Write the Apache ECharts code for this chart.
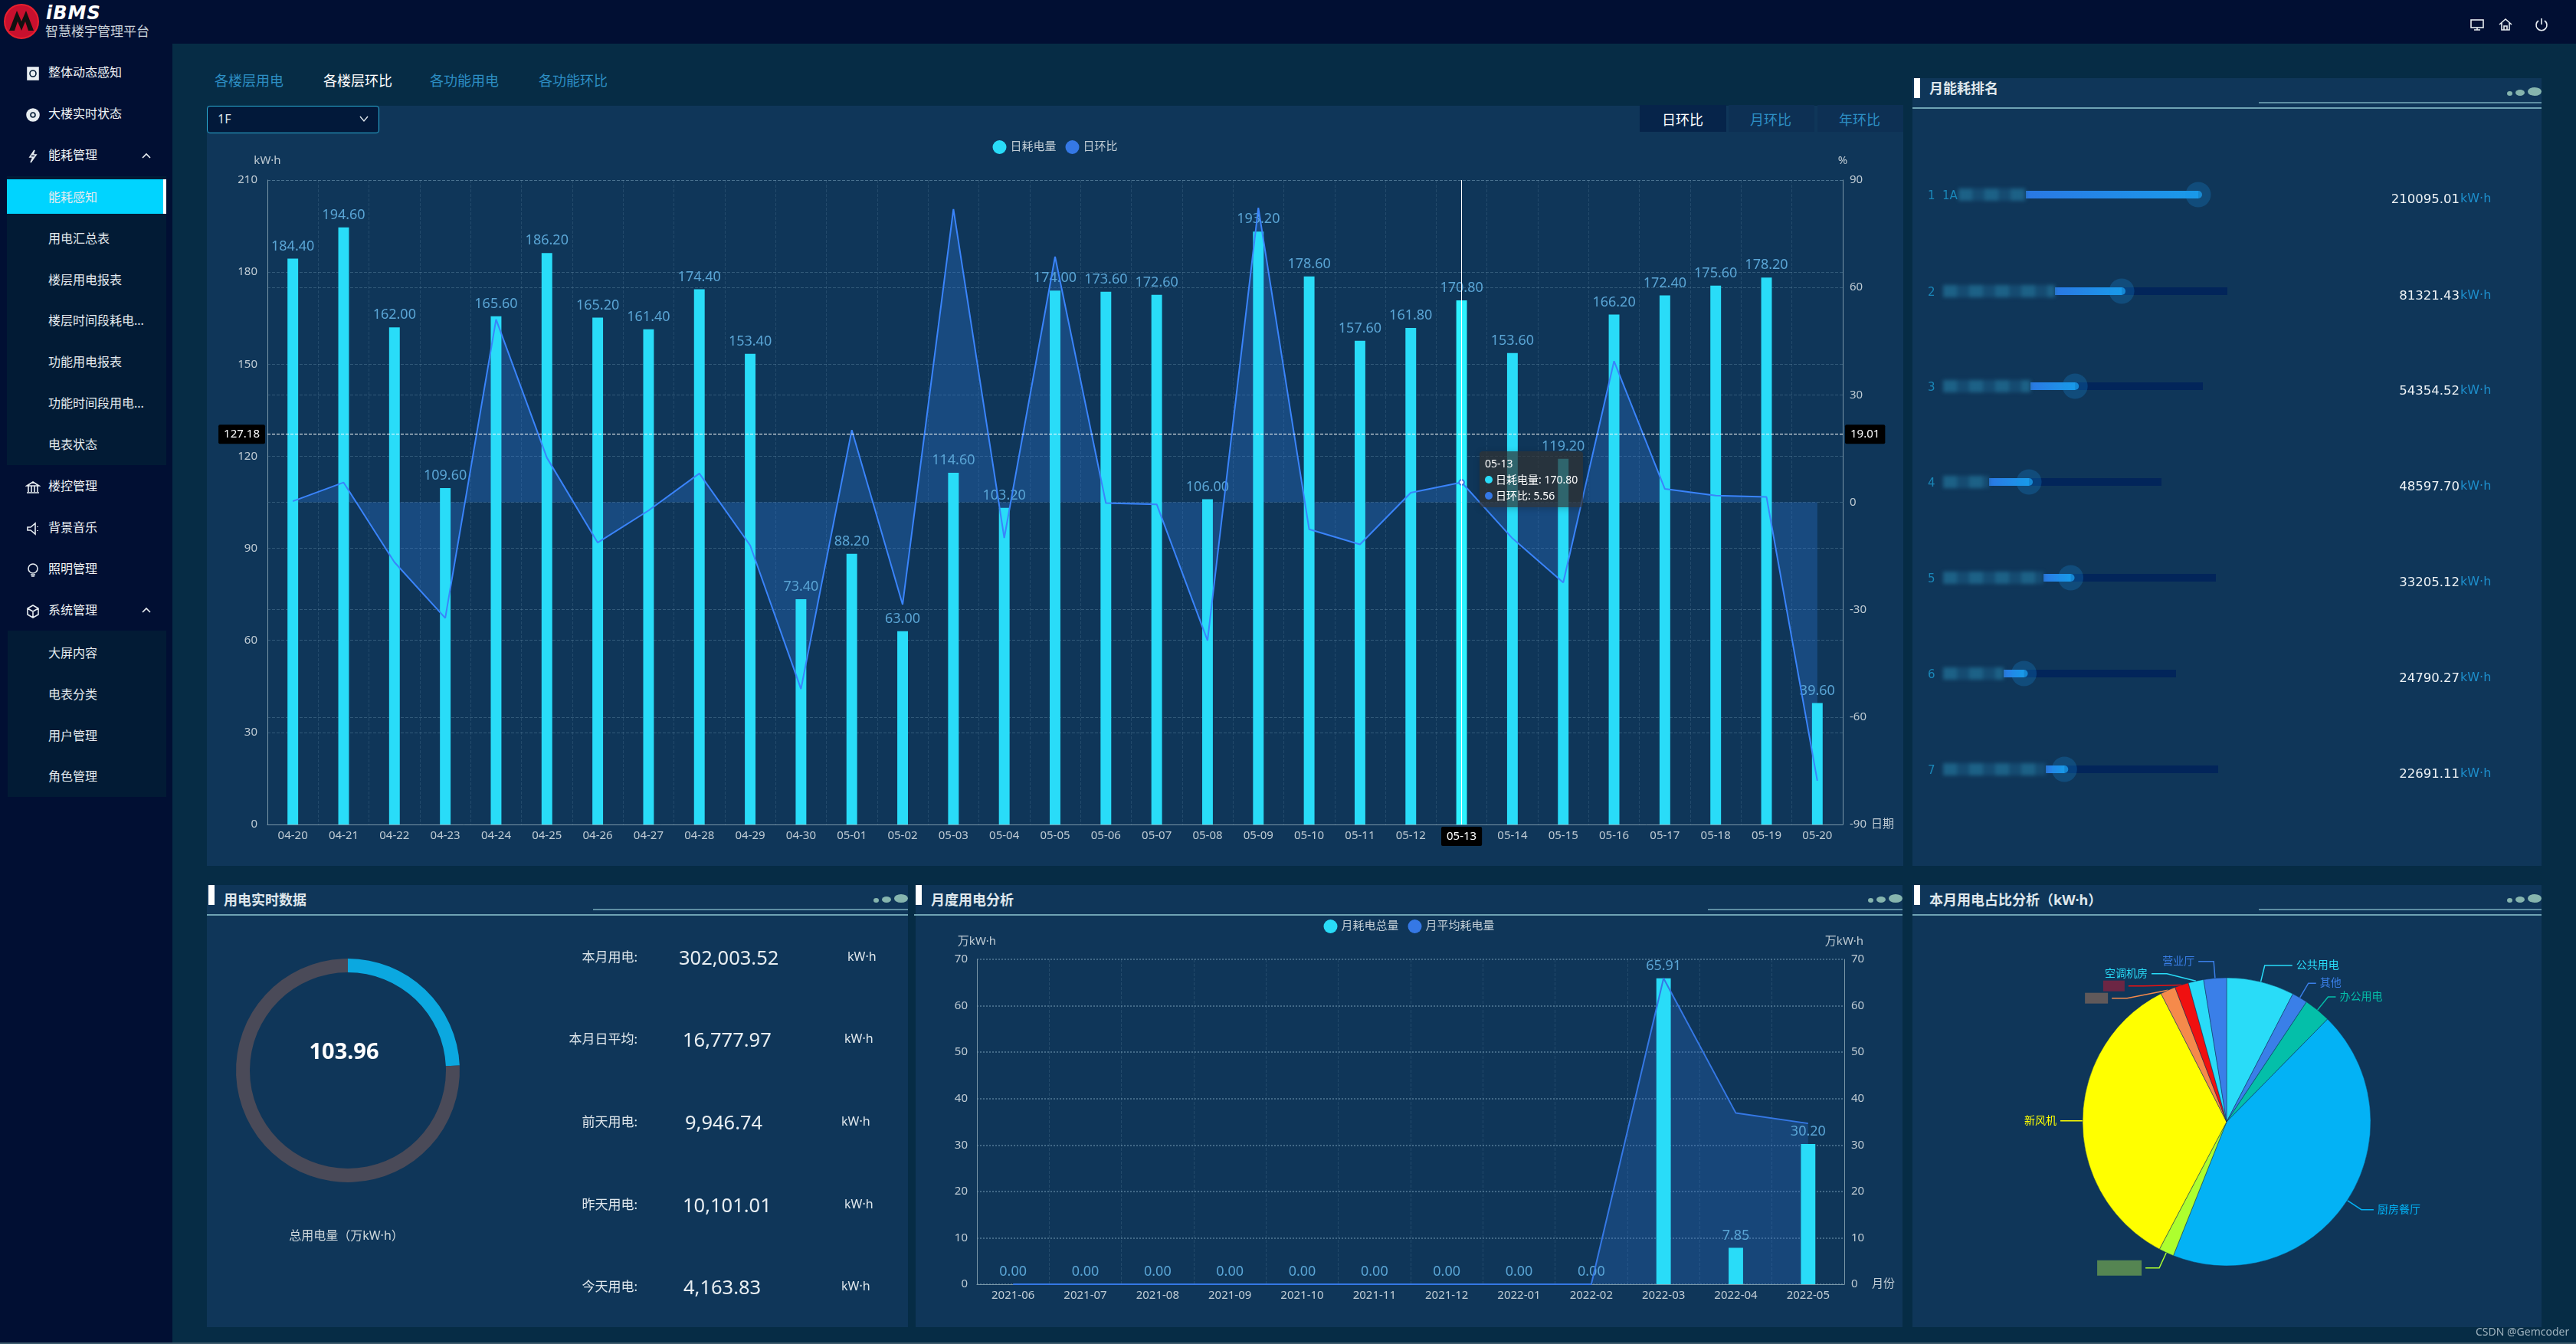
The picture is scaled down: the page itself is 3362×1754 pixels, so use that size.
<!DOCTYPE html>
<html>
<head>
<meta charset="utf-8">
<title>IBMS</title>
<script src="https://cdn.jsdelivr.net/npm/echarts@6/dist/echarts.min.js"></script>
<style>
html, body { margin: 0; padding: 0; background: #062c45; }
body { width: 3362px; height: 1754px; position: relative; overflow: hidden; font-family: "Noto Sans", "Noto Sans CJK SC", sans-serif; color: #dfe7ec; }
.abs { position: absolute; white-space: nowrap; }
.panel { position: absolute; background: #0f3659; }
.chart { position: absolute; }
.mid { transform: translateY(calc(-50% - 2px)); line-height: 1; }
</style>
</head>
<body>
<div id="root"></div>
<script>
// main chart
let days = ['04-20','04-21','04-22','04-23','04-24','04-25','04-26','04-27','04-28','04-29','04-30','05-01','05-02','05-03','05-04','05-05','05-06','05-07','05-08','05-09','05-10','05-11','05-12','05-13','05-14','05-15','05-16','05-17','05-18','05-19','05-20']
let dayKwh = [184.40,194.60,162.00,109.60,165.60,186.20,165.20,161.40,174.40,153.40,73.40,88.20,63.00,114.60,103.20,174.00,173.60,172.60,106.00,193.20,178.60,157.60,161.80,170.80,153.60,119.20,166.20,172.40,175.60,178.20,39.60]
let dayRatio = [0.30,5.53,-16.75,-32.35,51.09,12.44,-11.28,-2.30,8.05,-12.04,-52.15,20.16,-28.57,81.90,-9.95,68.60,-0.23,-0.58,-38.59,82.26,-7.56,-11.76,2.66,5.56,-10.07,-22.40,39.43,3.73,1.86,1.48,-77.78]
let pointerDay = '05-13'
let pointerKwh = 127.18

// monthly chart
let months = ['2021-06','2021-07','2021-08','2021-09','2021-10','2021-11','2021-12','2022-01','2022-02','2022-03','2022-04','2022-05']
let monthTotal = [0,0,0,0,0,0,0,0,0,65.91,7.85,30.20]
let monthAvg = [0,0,0,0,0,0,0,0,0,65.91,36.88,34.65]

// ranking, names are pixelated in the picture
let rankNames = ['1  1A','2','3','4','5','6','7']
let rankValues = [210095.01,81321.43,54354.52,48597.70,33205.12,24790.27,22691.11]

// ring and figures
let ringValue = 103.96
let ringRest = 324
let statNames = ['本月用电:','本月日平均:','前天用电:','昨天用电:','今天用电:']
let statValues = ['302,003.52','16,777.97','9,946.74','10,101.01','4,163.83']

// pie, empty names are the pixelated ones
let pieNames = ['公共用电','其他','办公用电','厨房餐厅','','新风机','','','空调机房','营业厅']
let pieValues = [22985,5285,9060,131875,5117,104946,5117,4698,5201,7718]
let pieColors = ['#29dcf8','#3a7fe8','#04bfa9','#03b2f5','#adff2f','#ffff00','#f58a4b','#f01010','#29dcf8','#3a7fe8']

// menu
let menuTop = ['整体动态感知','大楼实时状态','能耗管理']
let menuSub1 = ['能耗感知','用电汇总表','楼层用电报表','楼层时间段耗电...','功能用电报表','功能时间段用电...','电表状态']
let menuMid = ['楼控管理','背景音乐','照明管理','系统管理']
let menuSub2 = ['大屏内容','电表分类','用户管理','角色管理']

let root = document.getElementById('root')
let html = ''
function box(x, y, w, h, style, inner) {
    html += '<div class="abs" style="left:' + x + 'px;top:' + y + 'px;width:' + w + 'px;height:' + h + 'px;' + style + '">' + (inner || '') + '</div>'
}
function text(x, y, str, size, color, extra) {
    html += '<div class="abs mid" style="left:' + x + 'px;top:' + y + 'px;font-size:' + size + 'px;color:' + color + ';' + (extra || '') + '">' + str + '</div>'
}
function icon(x, y, path) {
    html += '<svg class="abs" style="left:' + x + 'px;top:' + y + 'px" width="20" height="20" viewBox="0 0 20 20" fill="none" stroke="#e8eef2" stroke-width="1.6">' + path + '</svg>'
}

// header and sidebar
box(0, 0, 3362, 57, 'background:#010f33')
box(0, 57, 225, 1697, 'background:#010f33')
box(0, 1752, 3362, 2, 'background:#3d5b6d')
html += '<svg class="abs" style="left:4px;top:4px" width="48" height="48" viewBox="0 0 48 48"><circle cx="24" cy="24" r="22" fill="#c8102e" stroke="#e8202e" stroke-width="2"/><path d="M8 36 L18 10 L24 24 L30 10 L40 36 L33 36 L29 24 L24 36 L19 24 L15 36 Z" fill="#111"/></svg>'
text(60, 19, 'iBMS', 24, '#fff', 'font-weight:900;font-style:italic;font-family:\'DejaVu Sans\';letter-spacing:1px')
text(59, 42, '智慧楼宇管理平台', 17, '#ccd5dc')
box(9, 230, 208, 377, 'background:#021b35')
box(10, 823, 207, 217, 'background:#021b35')
box(9, 234, 208, 45, 'background:#00d4ff')
box(213, 234, 4, 45, 'background:#fff')
let paths = [
    '<rect x="3" y="2" width="14" height="16" fill="#e8eef2"/><circle cx="10" cy="10" r="4" stroke="#021b35"/>',
    '<circle cx="10" cy="10" r="8" fill="#e8eef2"/><circle cx="10" cy="10" r="3" stroke="#021b35"/>',
    '<path d="M12 2 L6 11 L10 11 L7 18 L14 8 L10 8 Z"/>',
    '<path d="M2 8 L10 3 L18 8 Z M4 8 V16 M8 8 V16 M12 8 V16 M16 8 V16 M2 17 H18"/>',
    '<path d="M3 8 H7 L13 3 V17 L7 12 H3 Z M16 7 V8 M16 12 V13"/>',
    '<circle cx="10" cy="8" r="6"/><path d="M7 16 H13 M8 18 H12"/>',
    '<path d="M10 2 L17 6 V14 L10 18 L3 14 V6 Z M3 6 L10 10 L17 6 M10 10 V18"/>'
]
menuTop.forEach((name, i) => {
    let y = 96 + i * 54
    icon(33, y - 10, paths[i])
    text(63, y, name, 16, '#f0f4f6')
})
menuSub1.forEach((name, i) => text(63, 259 + i * 53.8, name, 16, '#e4ebef'))
menuMid.forEach((name, i) => {
    let y = 636 + i * 54
    icon(33, y - 10, paths[i + 3])
    text(63, y, name, 16, '#f0f4f6')
})
menuSub2.forEach((name, i) => text(63, 854 + i * 53.8, name, 16, '#e4ebef'))
let chevron = '<path d="M5 12 L10 7 L15 12"/>'
icon(181, 194, chevron)
icon(181, 787, chevron)

// top right buttons
icon(3223, 22, '<rect x="2" y="4" width="16" height="10"/><path d="M10 14 V17 M6 17 H14"/>')
icon(3260, 22, '<path d="M2 10 L10 3 L18 10 M5 8 V17 H15 V8 M8 17 V12 H12 V17"/>')
icon(3307, 22, '<path d="M10 2 V10 M6 5 A7 7 0 1 0 14 5"/>')

// tabs
let tabs = [['各楼层用电', 280, '#2d8fc4'], ['各楼层环比', 422, '#fff'], ['各功能用电', 561, '#2d8fc4'], ['各功能环比', 703, '#2d8fc4']]
tabs.forEach(t => text(t[1], 107, t[0], 18, t[2]))

// panels
function panelHead(x, w, y, title, lineFrom, titleGap) {
    box(x + 2, y, 8, 26, 'background:#fff')
    text(x + 22, y + titleGap, title, 18, '#dfe7ec', 'font-weight:700')
    box(x, y + 38, w, 2, 'background:#6fa3b4')
    box(lineFrom, y + 31, x + w - lineFrom, 2, 'background:#5d8ea3')
    let r = x + w
    box(r - 45, y + 17, 7, 6, 'background:#86b5ae;border-radius:50%')
    box(r - 34, y + 15, 12, 8, 'background:#86b5ae;border-radius:50%')
    box(r - 18, y + 12, 18, 11, 'background:#86b5ae;border-radius:50%')
}
html += '<div class="panel" style="left:270px;top:138px;width:2214px;height:992px"></div>'
html += '<div class="panel" style="left:2496px;top:102px;width:821px;height:1028px"></div>'
html += '<div class="panel" style="left:270px;top:1155px;width:915px;height:577px"></div>'
html += '<div class="panel" style="left:1195px;top:1155px;width:1288px;height:577px"></div>'
html += '<div class="panel" style="left:2496px;top:1155px;width:821px;height:577px"></div>'
panelHead(2496, 821, 102, '月能耗排名', 2948, 15)
panelHead(270, 915, 1155, '用电实时数据', 774, 21)
panelHead(1193, 1290, 1155, '月度用电分析', 2229, 21)
panelHead(2496, 821, 1155, '本月用电占比分析（kW·h）', 2948, 21)

// floor select and period tabs
box(270, 138, 223, 34, 'background:#02193a;border:1px solid #2bb0d6;border-radius:4px')
text(284, 157, '1F', 16, '#dfe7ec')
html += '<svg class="abs" style="left:468px;top:148px" width="14" height="14" viewBox="0 0 14 14" fill="none" stroke="#dfe7ec" stroke-width="1.4"><path d="M2 4 L7 10 L12 4"/></svg>'
box(2140, 137, 113, 35, 'background:#06244a')
box(2256, 137, 112, 35, 'background:#0d3054')
box(2372, 137, 112, 35, 'background:#0d3054')
text(2169, 158, '日环比', 18, '#fff')
text(2284, 158, '月环比', 18, '#2d8fc4')
text(2400, 158, '年环比', 18, '#2d8fc4')

// chart holders
html += '<div id="mainChart" class="chart" style="left:270px;top:138px;width:2214px;height:992px"></div>'
html += '<div id="rankChart" class="chart" style="left:2496px;top:140px;width:821px;height:990px"></div>'
html += '<div id="ringChart" class="chart" style="left:270px;top:1195px;width:500px;height:537px"></div>'
html += '<div id="monthChart" class="chart" style="left:1195px;top:1195px;width:1288px;height:537px"></div>'
html += '<div id="pieChart" class="chart" style="left:2496px;top:1195px;width:821px;height:537px"></div>'

// figures beside the ring
let statY = [1250, 1357, 1465, 1573, 1680]
let statX = [886, 891, 894, 891, 892]
let unitX = [1106, 1102, 1098, 1102, 1098]
statNames.forEach((name, i) => {
    text(700, statY[i], name, 17, '#dfe7ec', 'width:132px;text-align:right')
    text(statX[i], statY[i] + 2, statValues[i], 25.5, '#e8eef2')
    text(unitX[i], statY[i], 'kW·h', 16, '#dfe7ec')
})

// ranking labels
let rankY = [254, 380, 504, 629, 754, 879, 1004]
let rankStart = [2644, 2682, 2650, 2596, 2667, 2615, 2670]
rankNames.forEach((name, i) => {
    let from = i == 0 ? 2556 : 2536
    box(from, rankY[i] - 8, rankStart[i] - from, 16, 'filter:blur(2.5px);background:repeating-linear-gradient(90deg,rgba(34,112,150,.75) 0 18px,rgba(26,90,130,.6) 18px 34px)')
    text(2516, rankY[i] + 3, name.replace(/ /g, '&nbsp;'), 15, '#1a87b8', "font-family:'DejaVu Sans'")
    text(3110, rankY[i] + 8, rankValues[i].toFixed(2), 16.5, '#eef3f6', "font-family:'DejaVu Sans';width:100px;text-align:right")
    text(3211, rankY[i] + 7, 'kW·h', 16, '#1d8ecb', "font-family:'DejaVu Sans'")
})
text(3231, 1740, 'CSDN @Gemcoder', 14, '#9fb3bf')
root.innerHTML = html

let baseFont = { fontFamily: '"Noto Sans", "Noto Sans CJK SC", sans-serif' }
let axisColor = '#7a97a8'
let labelColor = '#c0ccd4'
let splitColor = 'rgba(140,180,205,.28)'
let barColor = '#29dcf8'
let lineColor = '#3578e5'
let areaColor = 'rgba(45,110,200,.42)'

function valueAxis(max, interval, min, name, pos, gap, margin) {
    return {
        type: 'value', min: min, max: max, interval: interval, position: pos,
        name: name, nameGap: gap, nameTextStyle: { color: labelColor, fontSize: 15 },
        axisLine: { show: true, lineStyle: { color: axisColor } },
        axisTick: { show: false },
        axisLabel: { color: labelColor, fontSize: 15, margin: margin, padding: [0, 0, 5, 0] },
        splitLine: { show: true, lineStyle: { color: splitColor, type: 'dashed' } }
    }
}
function catAxis(data, name, gap) {
    return {
        type: 'category', data: data, name: name, nameGap: gap,
        nameTextStyle: { color: labelColor, fontSize: 15 },
        axisLine: { lineStyle: { color: axisColor } },
        axisTick: { show: false },
        axisLabel: { color: labelColor, fontSize: 15, margin: 7, interval: 0 },
        splitLine: { show: true, lineStyle: { color: 'rgba(140,180,205,.16)', type: 'dashed' } }
    }
}
function comboSeries(barName, lineName, bars, line, width) {
    return [
        { name: lineName, type: 'line', yAxisIndex: 1, data: line, z: 1, symbol: 'none', color: lineColor,
          lineStyle: { width: 0 }, areaStyle: { color: areaColor }, silent: true },
        { name: barName, type: 'bar', data: bars, barWidth: width, color: barColor, z: 2,
          label: { show: true, position: 'top', color: '#5aa5d5', fontSize: 18, distance: 7, formatter: p => p.value.toFixed(2) } },
        { name: lineName, type: 'line', yAxisIndex: 1, data: line, z: 3, showSymbol: false, color: lineColor,
          lineStyle: { width: 2, color: lineColor } }
    ]
}

let mainChart = echarts.init(document.getElementById('mainChart'))
let mainY = valueAxis(210, 30, 0, 'kW·h', 'left', 18, 13)
let mainY2 = valueAxis(90, 30, -90, '%', 'right', 18, 9)
let pointerLabel = { show: true, backgroundColor: '#000', color: '#fff', fontSize: 15, padding: [5, 7], borderRadius: 2, shadowBlur: 0 }
mainY.axisPointer = mainY2.axisPointer = {
    show: true, triggerTooltip: false, snap: false, type: 'line',
    lineStyle: { color: '#fff', type: 'dashed', width: 1 },
    label: Object.assign({ formatter: p => p.value.toFixed(2) }, pointerLabel)
}
let mainX = catAxis(days, '日期', 34)
mainX.axisPointer = { show: true, type: 'line', lineStyle: { color: '#fff', type: 'solid', width: 1 }, label: pointerLabel }
mainChart.setOption({
    animation: false,
    textStyle: baseFont,
    legend: { data: ['日耗电量', '日环比'], top: 40, icon: 'circle', itemWidth: 18, itemHeight: 18, itemGap: 12, textStyle: { color: labelColor, fontSize: 15 } },
    grid: { left: 79, right: 79, top: 97, bottom: 54 },
    tooltip: {
        trigger: 'axis', alwaysShowContent: true, transitionDuration: 0, position: [1661, 451],
        backgroundColor: 'rgba(50,50,50,.7)', borderWidth: 0, padding: [5, 7],
        textStyle: { color: '#fff', fontSize: 14 },
        axisPointer: { type: 'line' },
        formatter: ps => {
            let rows = ps.filter(p => p.seriesIndex > 0).map(p => p.marker + p.seriesName + ': ' + (p.seriesIndex == 1 ? p.value.toFixed(2) : p.value))
            return ps[0].axisValue + '<br/>' + rows.join('<br/>')
        }
    },
    xAxis: mainX,
    yAxis: [mainY, mainY2],
    series: comboSeries('日耗电量', '日环比', dayKwh, dayRatio, '21%')
})
mainChart.dispatchAction({
    type: 'showTip',
    x: mainChart.convertToPixel({ xAxisIndex: 0 }, pointerDay),
    y: mainChart.convertToPixel({ yAxisIndex: 0 }, pointerKwh)
})

let monthChart = echarts.init(document.getElementById('monthChart'))
let monthLeft = valueAxis(70, 10, 0, '万kW·h', 'left', 16, 12)
let monthRight = valueAxis(70, 10, 0, '万kW·h', 'right', 16, 9)
monthRight.splitLine.show = false
monthLeft.splitLine.lineStyle = { color: 'rgba(150,190,210,.38)', type: 'dotted', width: 2 }
monthChart.setOption({
    animation: false,
    textStyle: baseFont,
    legend: { data: ['月耗电总量', '月平均耗电量'], top: 0, icon: 'circle', itemWidth: 18, itemHeight: 18, itemGap: 12, textStyle: { color: labelColor, fontSize: 15 } },
    grid: { left: 80, right: 76, top: 57, bottom: 56 },
    xAxis: catAxis(months, '月份', 36),
    yAxis: [monthLeft, monthRight],
    series: comboSeries('月耗电总量', '月平均耗电量', monthTotal, monthAvg, '20%')
})

// one small grid per row, each bar starts after its own name
let rankMax = rankValues[0]
let rankGrid = [], rankX = [], rankYAxis = [], rankSeries = []
rankValues.forEach((v, i) => {
    rankGrid.push({ left: rankStart[i] - 2496, top: rankY[i] - 140 - 5, width: 225, height: 10 })
    rankX.push({ gridIndex: i, type: 'value', min: 0, max: rankMax, show: false })
    rankYAxis.push({ gridIndex: i, type: 'category', data: [rankNames[i]], show: false })
    rankSeries.push({
        type: 'bar', xAxisIndex: i, yAxisIndex: i, data: [v], barWidth: 10,
        showBackground: true, backgroundStyle: { color: '#02255a' },
        itemStyle: { color: { type: 'linear', x: 0, y: 0, x2: 1, y2: 0, colorStops: [{ offset: 0, color: '#2a78e4' }, { offset: 1, color: '#1a9bea' }] } }
    })
    rankSeries.push({
        type: 'scatter', xAxisIndex: i, yAxisIndex: i, data: [[v, 0]], clip: false, symbolSize: 10, z: 3,
        itemStyle: { color: '#1a9bea' }
    })
    rankSeries.push({
        type: 'scatter', xAxisIndex: i, yAxisIndex: i, data: [[v, 0]], clip: false, symbolSize: 33, z: 4,
        itemStyle: { color: 'rgba(26,150,230,.3)' }
    })
})
let rankChart = echarts.init(document.getElementById('rankChart'))
rankChart.setOption({ animation: false, textStyle: baseFont, grid: rankGrid, xAxis: rankX, yAxis: rankYAxis, series: rankSeries })

let ringChart = echarts.init(document.getElementById('ringChart'))
ringChart.setOption({
    animation: false,
    textStyle: baseFont,
    title: [
        { text: String(ringValue), left: 174, top: 159, textAlign: 'center', textStyle: { color: '#fff', fontSize: 29, fontWeight: 700, fontFamily: baseFont.fontFamily } },
        { text: '总用电量（万kW·h）', left: 177, top: 405, textAlign: 'center', textStyle: { color: '#cfd8dc', fontSize: 16, fontWeight: 400, fontFamily: baseFont.fontFamily } }
    ],
    series: [{
        type: 'pie', center: [184, 202], radius: [128, 146], startAngle: 90, silent: true,
        label: { show: false }, labelLine: { show: false },
        data: [{ value: ringValue, itemStyle: { color: '#0ba8e0' } }, { value: ringRest, itemStyle: { color: '#4a4a58' } }]
    }]
})

let pieChart = echarts.init(document.getElementById('pieChart'))
let blockWidth = { 4: 58, 6: 30, 7: 28 }
let blockColor = { 4: 'rgba(110,160,80,.75)', 6: 'rgba(110,95,90,.85)', 7: 'rgba(125,35,65,.85)' }
let lineTail = { 0: 36, 1: 10, 2: 10, 3: 16, 5: 12, 4: 18 }
pieChart.setOption({
    animation: false,
    textStyle: baseFont,
    color: pieColors,
    series: [{
        type: 'pie', center: [410, 269], radius: 188, startAngle: 90, silent: true,
        itemStyle: { borderColor: 'rgba(15,54,89,.5)', borderWidth: 1 },
        labelLine: { length: 22, length2: 20, lineStyle: { width: 1.5 } },
        data: pieNames.map((n, i) => ({
            name: n,
            value: pieValues[i],
            labelLine: { length2: lineTail[i] || 20 },
            label: {
                color: pieColors[i], fontSize: 14, textBorderWidth: 0,
                formatter: n ? '{b}' : '{m| }',
                rich: { m: { width: blockWidth[i], height: i == 4 ? 20 : 14, backgroundColor: blockColor[i] } }
            }
        }))
    }]
})
</script>
</body>
</html>
